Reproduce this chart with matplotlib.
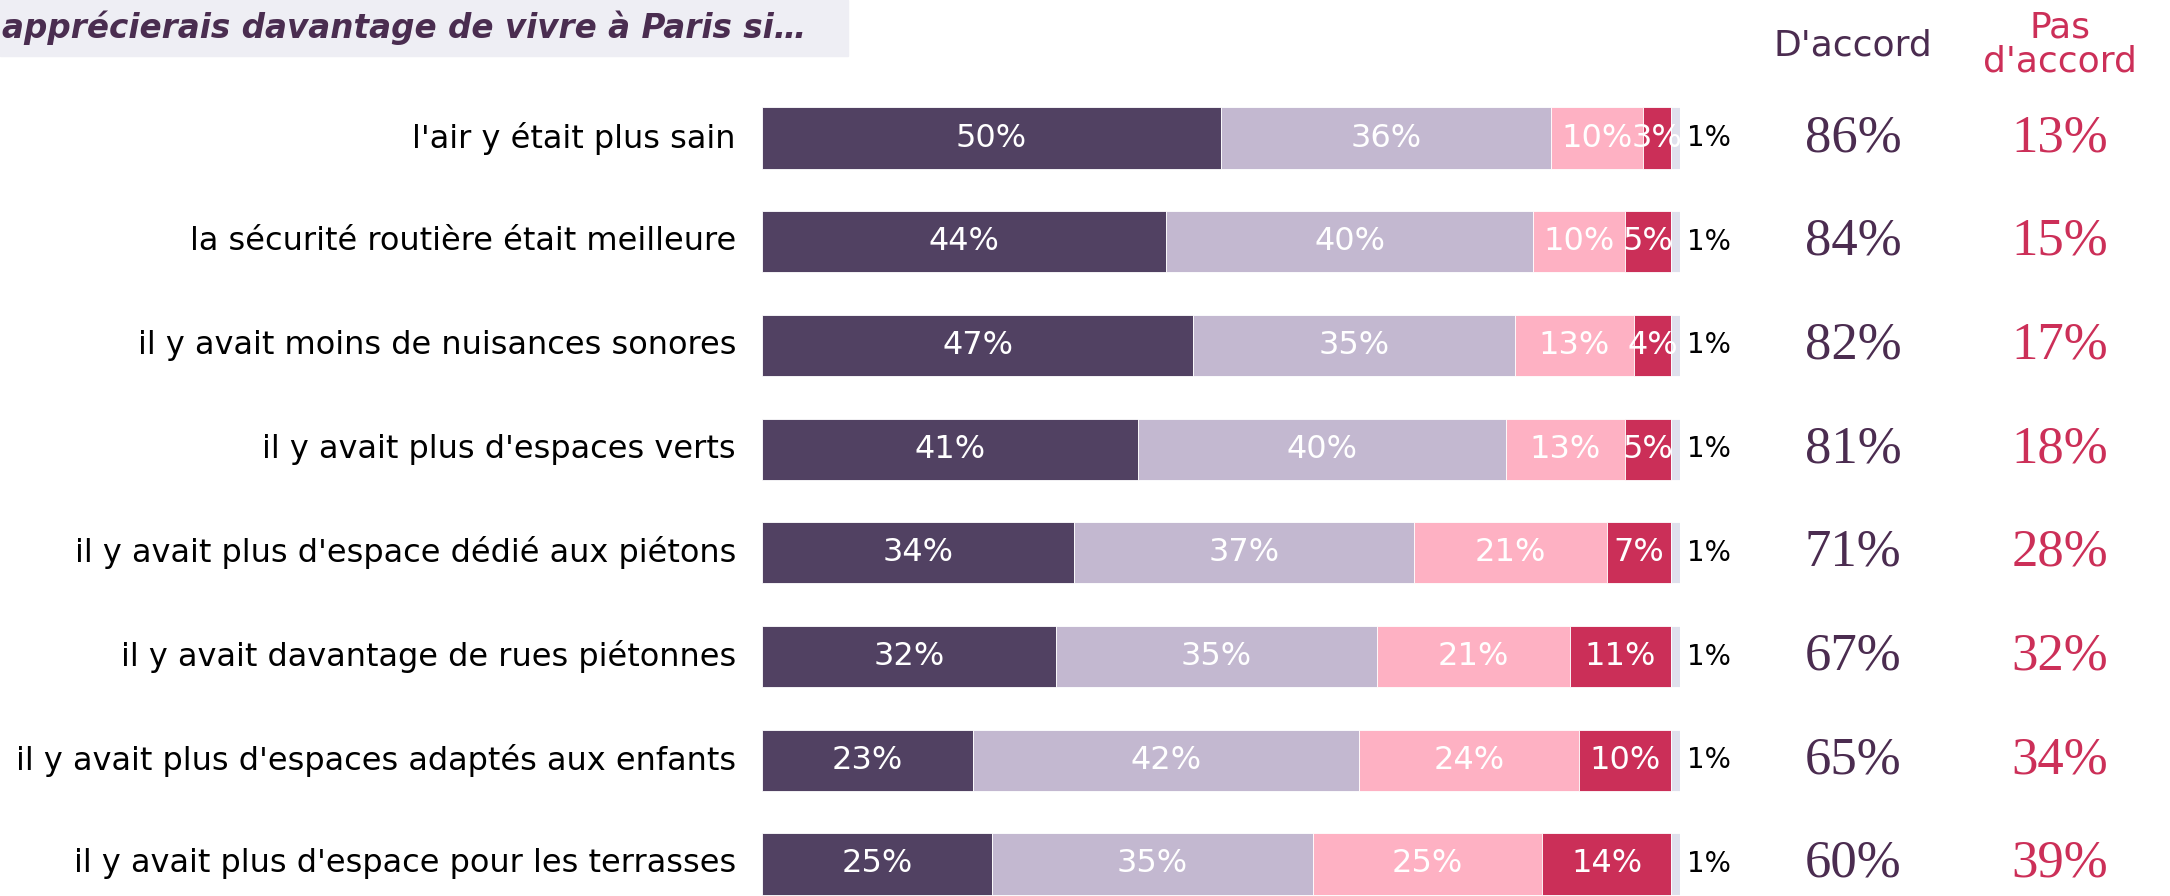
import numpy as np
import matplotlib.pyplot as plt
from matplotlib.transforms import blended_transform_factory

# données
categories = ["l'air y était plus sain",
              "la sécurité routière était meilleure",
              "il y avait moins de nuisances sonores",
              "il y avait plus d'espaces verts",
              "il y avait plus d'espace dédié aux piétons",
              "il y avait davantage de rues piétonnes",
              "il y avait plus d'espaces adaptés aux enfants",
              "il y avait plus d'espace pour les terrasses"]
tout_a_fait = [50, 44, 47, 41, 34, 32, 23, 25]
plutot_oui = [36, 40, 35, 40, 37, 35, 42, 35]
plutot_non = [10, 10, 13, 13, 21, 21, 24, 25]
pas_du_tout = [3, 5, 4, 5, 7, 11, 10, 14]
nsp = [1, 1, 1, 1, 1, 1, 1, 1]
total_accord = [86, 84, 82, 81, 71, 67, 65, 60]
total_pas_accord = [13, 15, 17, 18, 28, 32, 34, 39]

series = [tout_a_fait, plutot_oui, plutot_non, pas_du_tout, nsp]
couleurs = ['#514162', '#c3b8d0', '#feb1c3', '#cb2f58', '#dfe0ec']

W, H = 2170, 896
fig = plt.figure(figsize=(W / 100, H / 100), dpi=100)
plt.rcParams['font.family'] = ['DejaVu Sans']

ax = fig.add_axes([762 / W, 0, (1680 - 762) / W, 1])
pas = 103.7
ax.set_ylim(7 + (H - 864) / pas, -138 / pas)
ax.set_xlim(0, 100)
ax.axis('off')

y = np.arange(len(categories))
gauche = np.zeros(len(categories))
for k, (vals, c) in enumerate(zip(series, couleurs)):
    vals = np.array(vals)
    ax.barh(y, vals, left=gauche, height=0.59, color=c, edgecolor='white', linewidth=0.6)
    if k < 4:
        for i in range(len(y)):
            ax.text(gauche[i] + vals[i] / 2, y[i], f"{vals[i]}%", ha='center', va='center',
                    color='white', fontsize=23)
    gauche += vals

# 1% à droite
for i in range(len(y)):
    ax.text(100.8, y[i], f"{nsp[i]}%", ha='left', va='center', fontsize=20, color='black')

# libellés
tr = blended_transform_factory(fig.transFigure, ax.transData)
for i, cat in enumerate(categories):
    ax.text(736 / W, y[i], cat, transform=tr, ha='right', va='center', fontsize=23, color='black')

# colonnes de droite
for i in range(len(y)):
    ax.text(1853 / W, y[i], f"{total_accord[i]}%", transform=tr, ha='center', va='center',
            fontsize=38, color='#4b2c50', family='Liberation Serif')
    ax.text(2060 / W, y[i], f"{total_pas_accord[i]}%", transform=tr, ha='center', va='center',
            fontsize=38, color='#cc2f58', family='Liberation Serif')

fig.text(1853 / W, 1 - 46 / H, "D'accord", ha='center', va='center', fontsize=26, color='#4b2c50')
fig.text(2060 / W, 1 - 45 / H, "Pas\nd'accord", ha='center', va='center', fontsize=26,
         color='#cc2f58', linespacing=1.0)

# titre
fig.patches.append(plt.Rectangle((0, 1 - 56 / H), 848 / W, 56 / H, transform=fig.transFigure,
                                 color='#eeeef4', zorder=0))
fig.text(2 / W, 1 - 28 / H, "apprécierais davantage de vivre à Paris si…", ha='left', va='center',
         fontsize=23.5, fontweight='bold', style='italic', color='#4a2d50')

fig.savefig('out.png', dpi=100)
